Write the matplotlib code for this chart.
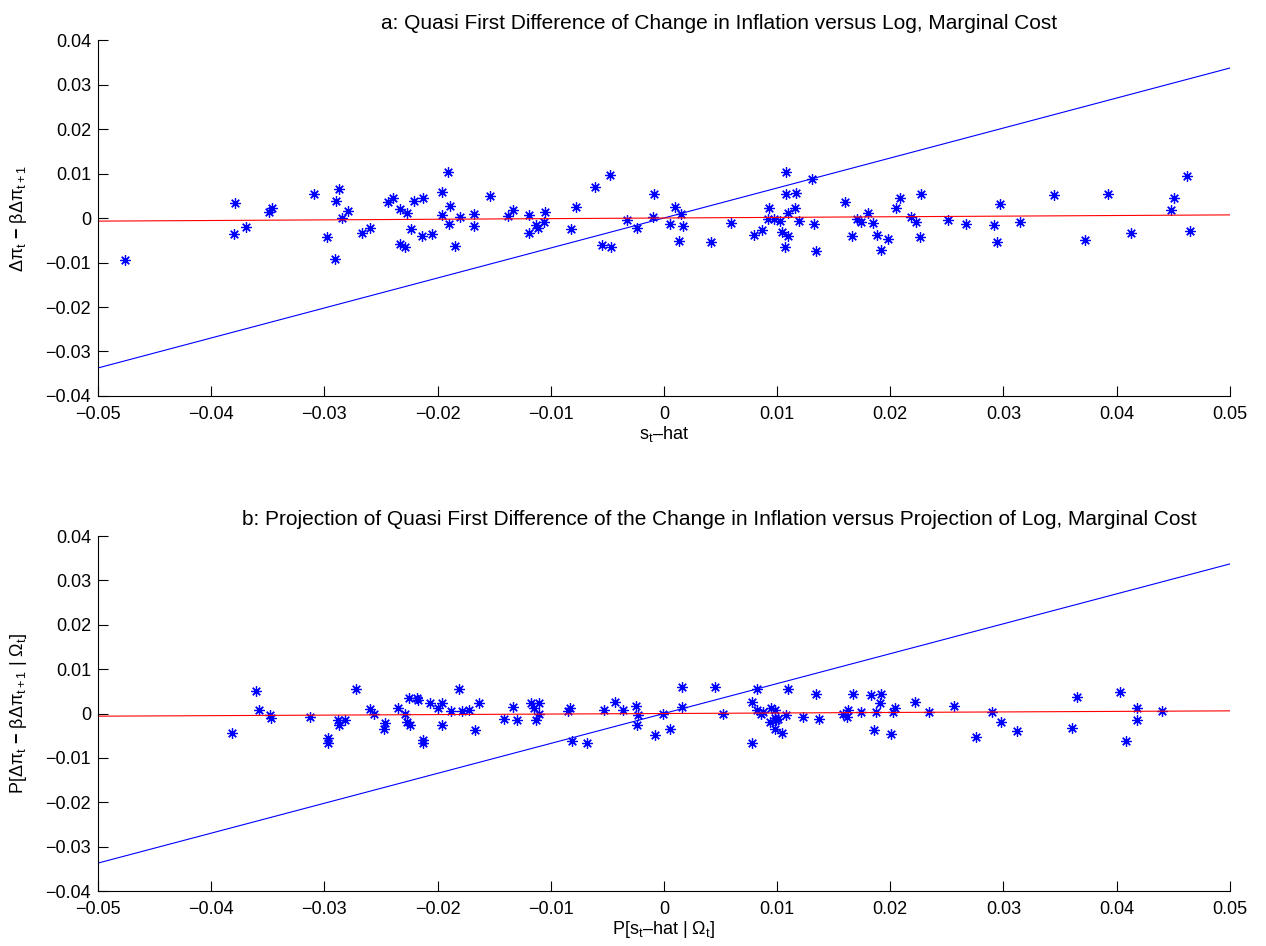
import matplotlib.pyplot as plt
import matplotlib.ticker as mticker
import numpy as np

plt.rcParams['font.family'] = ['Liberation Sans', 'DejaVu Sans']
plt.rcParams['mathtext.fontset'] = 'custom'
plt.rcParams['mathtext.rm'] = 'Liberation Sans'
plt.rcParams['mathtext.it'] = 'Liberation Sans'
plt.rcParams['mathtext.bf'] = 'Liberation Sans:bold'

# panel a: s_t-hat vs quasi first difference
a_x = [-0.0476, -0.0379, -0.0380, -0.0369, -0.0349, -0.0346, -0.0309, -0.0287, -0.0290, -0.0279,
       -0.0284, -0.0298, -0.0291, -0.0267, -0.0260, -0.0244, -0.0239, -0.0233, -0.0227, -0.0233,
       -0.0229, -0.0223, -0.0221, -0.0213, -0.0214, -0.0205, -0.0196, -0.0191, -0.0189, -0.0196,
       -0.0190, -0.0180, -0.0185, -0.0168, -0.0168, -0.0154, -0.0138, -0.0133, -0.0119, -0.0119,
       -0.0113, -0.0111, -0.0106, -0.0105, -0.0082, -0.0078, -0.0061, -0.0048, -0.0055, -0.0047,
       -0.0033, -0.0024, -0.0009, -0.0010, 0.0005, 0.0010, 0.0015, 0.0017, 0.0013, 0.0042,
       0.0059, 0.0080, 0.0087, 0.0093, 0.0092, 0.0097, 0.0103, 0.0108, 0.0108, 0.0117,
       0.0110, 0.0116, 0.0104, 0.0110, 0.0107, 0.0119, 0.0131, 0.0133, 0.0134, 0.0160,
       0.0166, 0.0171, 0.0174, 0.0180, 0.0185, 0.0188, 0.0192, 0.0198, 0.0205, 0.0209,
       0.0218, 0.0223, 0.0227, 0.0226, 0.0251, 0.0267, 0.0297, 0.0292, 0.0294, 0.0315,
       0.0345, 0.0372, 0.0392, 0.0413, 0.0448, 0.0451, 0.0462, 0.0465]
a_y = [-0.0094, 0.0033, -0.0036, -0.0020, 0.0014, 0.0023, 0.0055, 0.0065, 0.0038, 0.0016,
       -0.0001, -0.0042, -0.0093, -0.0033, -0.0023, 0.0037, 0.0046, 0.0020, 0.0012, -0.0059,
       -0.0066, -0.0025, 0.0039, 0.0044, -0.0040, -0.0037, 0.0059, 0.0104, 0.0027, 0.0006,
       -0.0013, 0.0003, -0.0064, 0.0010, -0.0018, 0.0049, 0.0005, 0.0018, 0.0006, -0.0033,
       -0.0016, -0.0022, -0.0009, 0.0013, -0.0025, 0.0025, 0.0069, 0.0097, -0.0060, -0.0065,
       -0.0004, -0.0022, 0.0054, 0.0003, -0.0013, 0.0024, 0.0009, -0.0017, -0.0051, -0.0055,
       -0.0012, -0.0039, -0.0028, 0.0022, -0.0002, -0.0002, -0.0007, 0.0104, 0.0055, 0.0057,
       0.0012, 0.0022, -0.0031, -0.0040, -0.0065, -0.0007, 0.0087, -0.0013, -0.0075, 0.0037,
       -0.0040, -0.0003, -0.0008, 0.0012, -0.0012, -0.0038, -0.0073, -0.0047, 0.0022, 0.0046,
       0.0003, -0.0009, 0.0054, -0.0043, -0.0004, -0.0014, 0.0031, -0.0016, -0.0055, -0.0008,
       0.0051, -0.0049, 0.0055, -0.0034, 0.0019, 0.0045, 0.0094, -0.0030]

# panel b: projections
b_x = [-0.0382, -0.0360, -0.0358, -0.0348, -0.0347, -0.0313, -0.0297, -0.0297, -0.0288, -0.0287,
       -0.0282, -0.0272, -0.0260, -0.0256, -0.0246, -0.0247, -0.0235, -0.0229, -0.0227, -0.0224,
       -0.0225, -0.0218, -0.0217, -0.0213, -0.0213, -0.0207, -0.0200, -0.0196, -0.0196, -0.0188,
       -0.0181, -0.0178, -0.0172, -0.0167, -0.0163, -0.0141, -0.0133, -0.0130, -0.0117, -0.0115,
       -0.0110, -0.0110, -0.0113, -0.0085, -0.0083, -0.0081, -0.0068, -0.0053, -0.0043, -0.0036,
       -0.0025, -0.0023, -0.0024, -0.0008, -0.0001, 0.0005, 0.0016, 0.0016, 0.0045, 0.0052,
       0.0082, 0.0078, 0.0078, 0.0082, 0.0086, 0.0088, 0.0094, 0.0095, 0.0098, 0.0098,
       0.0099, 0.0101, 0.0098, 0.0104, 0.0108, 0.0110, 0.0123, 0.0134, 0.0137, 0.0158,
       0.0162, 0.0163, 0.0167, 0.0174, 0.0183, 0.0192, 0.0191, 0.0186, 0.0187, 0.0201,
       0.0202, 0.0204, 0.0222, 0.0234, 0.0256, 0.0276, 0.0290, 0.0298, 0.0312, 0.0361,
       0.0365, 0.0403, 0.0408, 0.0418, 0.0418, 0.0440]
b_y = [-0.0044, 0.0051, 0.0008, -0.0003, -0.0009, -0.0007, -0.0056, -0.0067, -0.0015, -0.0026,
       -0.0015, 0.0055, 0.0010, 0.0000, -0.0021, -0.0036, 0.0012, 0.0000, -0.0018, -0.0026,
       0.0036, 0.0036, 0.0030, -0.0060, -0.0067, 0.0023, 0.0012, 0.0023, -0.0026, 0.0006,
       0.0055, 0.0006, 0.0008, -0.0037, 0.0023, -0.0012, 0.0014, -0.0015, 0.0023, 0.0012,
       0.0024, -0.0002, -0.0015, 0.0006, 0.0012, -0.0062, -0.0066, 0.0008, 0.0027, 0.0009,
       0.0018, -0.0003, -0.0026, -0.0049, 0.0000, -0.0036, 0.0059, 0.0014, 0.0059, 0.0000,
       0.0055, 0.0027, -0.0066, 0.0008, -0.0001, 0.0004, -0.0018, 0.0012, 0.0008, -0.0011,
       -0.0015, -0.0013, -0.0035, -0.0045, -0.0003, 0.0055, -0.0007, 0.0043, -0.0013, -0.0001,
       -0.0007, 0.0009, 0.0043, 0.0004, 0.0042, 0.0044, 0.0023, -0.0037, 0.0004, -0.0046,
       0.0004, 0.0012, 0.0025, 0.0004, 0.0018, -0.0052, 0.0003, -0.0018, -0.0039, -0.0033,
       0.0038, 0.0048, -0.0062, 0.0012, -0.0015, 0.0006]

# fitted lines, endpoints at x = -0.05 and 0.05
line_x = [-0.05, 0.05]
a_blue = [-0.0337, 0.0337]
a_red = [-0.0007, 0.0007]
b_blue = [-0.0337, 0.0337]
b_red = [-0.0006, 0.0006]

star = (8, 2, 0)

def fmt(v, pos):
    if abs(v) < 1e-12:
        return '0'
    return ('%.2f' % v).replace('-', '\u2212')

def style(ax):
    ax.set_xlim(-0.05, 0.05)
    ax.set_ylim(-0.04, 0.04)
    ax.set_xticks(np.arange(-0.05, 0.0501, 0.01))
    ax.set_yticks(np.arange(-0.04, 0.0401, 0.01))
    ax.xaxis.set_major_formatter(mticker.FuncFormatter(fmt))
    ax.yaxis.set_major_formatter(mticker.FuncFormatter(fmt))
    ax.spines['top'].set_visible(False)
    ax.spines['right'].set_visible(False)
    ax.tick_params(direction='in', length=7, width=0.8, labelsize=13, pad=5)
    ax.tick_params(axis='x', pad=7)

fig = plt.figure(figsize=(12.66, 9.46), dpi=100)

ax1 = fig.add_axes([0.0774, 0.5814, 0.894, 0.3763])
ax1.plot(a_x, a_y, linestyle='none', marker=star, color='blue', markersize=7.5, markeredgewidth=0.9)
ax1.plot(line_x, a_blue, color='blue', lw=0.8)
ax1.plot(line_x, a_red, color='red', lw=0.8)
style(ax1)
ax1.set_title('a: Quasi First Difference of Change in Inflation versus Log, Marginal Cost',
              fontsize=15, pad=8, x=0.549)
ax1.set_xlabel(r'$\mathrm{s}_\mathrm{t}$' + '\u2013hat', fontsize=13, labelpad=1)
ax1.set_ylabel(r'$\Delta\pi_\mathrm{t}\ \mathbf{-}\ \beta\Delta\pi_{\mathrm{t+1}}$', fontsize=13, labelpad=12)

ax2 = fig.add_axes([0.0774, 0.0581, 0.894, 0.3753])
ax2.plot(b_x, b_y, linestyle='none', marker=star, color='blue', markersize=7.5, markeredgewidth=0.9)
ax2.plot(line_x, b_blue, color='blue', lw=0.8)
ax2.plot(line_x, b_red, color='red', lw=0.8)
style(ax2)
ax2.set_title('b: Projection of Quasi First Difference of the Change in Inflation versus Projection of Log, Marginal Cost',
              fontsize=15, pad=8, x=0.549)
ax2.set_xlabel(r'P[$\mathrm{s}_\mathrm{t}$' + '\u2013hat | ' + r'$\Omega_\mathrm{t}$]', fontsize=13, labelpad=1)
ax2.set_ylabel(r'P[$\Delta\pi_\mathrm{t}\ \mathbf{-}\ \beta\Delta\pi_{\mathrm{t+1}}$ | $\Omega_\mathrm{t}$]',
               fontsize=13, labelpad=12)

fig.savefig('out.png', dpi=100)
